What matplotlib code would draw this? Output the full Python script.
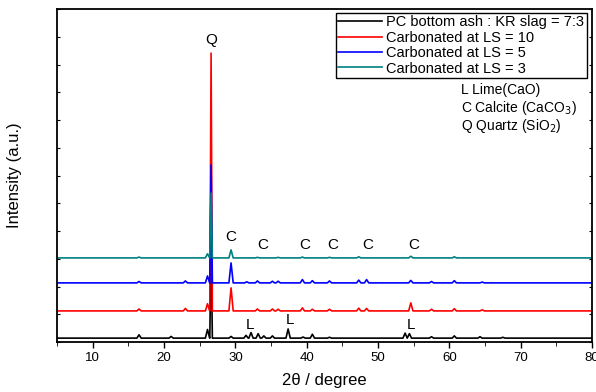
import numpy as np
import matplotlib.pyplot as plt

plt.rcParams['font.family'] = ['Liberation Sans', 'DejaVu Sans']

# peak lists (2theta in degree, intensity in a.u.)
black_base = 0.14
black_pos = [16.5, 21.0, 26.1, 26.6, 29.4, 31.5, 32.2, 33.2, 34.0, 35.2, 37.4,
             39.5, 40.8, 43.2, 53.8, 54.4, 57.5, 60.7, 64.3, 67.5]
black_top = [0.26, 0.2, 0.45, 3.6, 0.2, 0.24, 0.34, 0.3, 0.22, 0.22, 0.47,
             0.18, 0.28, 0.17, 0.32, 0.3, 0.19, 0.22, 0.19, 0.17]

red_base = 1.12
red_pos = [16.5, 23.0, 26.1, 26.6, 29.4, 33.1, 35.2, 36.0, 39.4, 40.8, 43.2,
           47.3, 48.4, 54.6, 57.5, 60.7, 64.6]
red_top = [1.19, 1.21, 1.38, 10.41, 1.95, 1.19, 1.19, 1.18, 1.23, 1.18, 1.18,
           1.22, 1.21, 1.41, 1.18, 1.2, 1.16]

blue_base = 2.13
blue_pos = [16.5, 23.0, 26.1, 26.6, 29.4, 31.6, 33.1, 35.2, 36.0, 39.4, 40.8,
            43.2, 47.3, 48.4, 54.6, 57.5, 60.7, 64.6]
blue_top = [2.18, 2.2, 2.38, 6.38, 2.85, 2.17, 2.2, 2.19, 2.19, 2.25, 2.21,
            2.2, 2.23, 2.25, 2.22, 2.18, 2.21, 2.16]

teal_base = 3.03
teal_pos = [16.5, 26.1, 26.6, 29.4, 33.1, 36.0, 39.4, 43.2, 47.3, 54.6, 60.7]
teal_top = [3.06, 3.18, 5.37, 3.32, 3.05, 3.05, 3.06, 3.05, 3.07, 3.09, 3.07]

labels = ['PC bottom ash : KR slag = 7:3', 'Carbonated at LS = 10',
          'Carbonated at LS = 5', 'Carbonated at LS = 3']

# phase markers: (letter, 2theta, height)
marks = [('Q', 26.6, 10.9), ('C', 29.4, 3.78), ('C', 33.9, 3.5), ('C', 39.7, 3.5),
         ('C', 43.6, 3.5), ('C', 48.6, 3.5), ('C', 55.0, 3.5),
         ('L', 32.0, 0.61), ('L', 37.6, 0.79), ('L', 54.6, 0.61)]


def pattern(base, pos, top):
    # turn peak list into line vertices
    xs, ys = [5], [base]
    for p, t in zip(pos, top):
        ww = 0.18 if t - base > 2 else 0.3
        xs += [p - ww, p, p + ww]
        ys += [base, t, base]
    xs.append(80)
    ys.append(base)
    return xs, ys


fig = plt.figure(figsize=(5.96, 3.92), dpi=100)
ax = fig.add_axes([57/596, 1-342/392, 535/596, 333/392])

series = [(black_base, black_pos, black_top, 'black'),
          (red_base, red_pos, red_top, '#ff0000'),
          (blue_base, blue_pos, blue_top, '#0000ff'),
          (teal_base, teal_pos, teal_top, '#008080')]
for (b, p, t, c), lab in zip(series, labels):
    x, y = pattern(b, p, t)
    ax.plot(x, y, color=c, lw=1.2, label=lab)

for s, x, y in marks:
    ax.text(x, y, s, ha='center', va='center', fontsize=11)

ax.text(61.7, 9.07, 'L Lime(CaO)', fontsize=10, va='center')
ax.text(61.7, 8.44, 'C Calcite (CaCO$_3$)', fontsize=10, va='center')
ax.text(61.7, 7.79, 'Q Quartz (SiO$_2$)', fontsize=10, va='center')

ax.set_xlim(5, 80)
ax.set_ylim(0, 12)
ax.set_xticks(np.arange(10, 81, 10))
ax.set_xticks(np.arange(5, 81, 5), minor=True)
ax.set_yticks(np.arange(0, 12.1, 1))
ax.set_yticklabels([])
ax.tick_params(axis='x', direction='out', length=4, width=1, labelsize=9.5)
ax.tick_params(axis='x', which='minor', direction='out', length=3)
ax.tick_params(axis='y', direction='in', length=2, right=True)
for sp in ax.spines.values():
    sp.set_linewidth(1.3)

ax.set_xlabel('2θ / degree', fontsize=12, labelpad=6)
ax.set_ylabel('Intensity (a.u.)', fontsize=12, labelpad=22)

leg = ax.legend(loc='upper right', bbox_to_anchor=(0.99, 0.988), fontsize=10.5,
                frameon=True, fancybox=False, edgecolor='black', framealpha=1,
                handlelength=3.0, handletextpad=0.3, labelspacing=0.1,
                borderpad=0.15, borderaxespad=0)
leg.get_frame().set_linewidth(1.0)

plt.savefig('out.png', dpi=100)
